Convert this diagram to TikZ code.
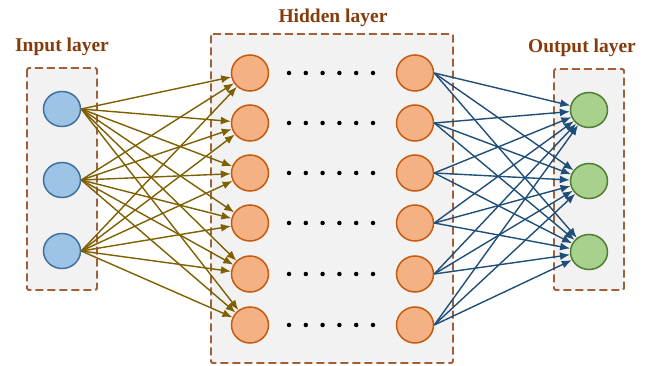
\documentclass[tikz,border=0pt]{standalone}
\usepackage{fontspec}
\setmainfont{Liberation Serif}
\usetikzlibrary{arrows.meta,shapes.geometric}
\definecolor{titlec}{HTML}{843C0C}
\definecolor{dashc}{HTML}{A0603A}
\definecolor{boxfill}{HTML}{F2F2F2}
\definecolor{inf}{HTML}{9DC3E6}
\definecolor{ind}{HTML}{41719C}
\definecolor{hif}{HTML}{F4B183}
\definecolor{hid}{HTML}{C55A11}
\definecolor{ouf}{HTML}{A9D18E}
\definecolor{oud}{HTML}{507E32}
\definecolor{arrl}{HTML}{7F6000}
\definecolor{arrr}{HTML}{1F4E79}
\tikzset{
  layerbox/.style={draw=dashc, fill=boxfill, line width=1.8pt, dash pattern=on 8pt off 4pt, rounded corners=1.5pt},
  neuron/.style={ellipse, minimum width=37pt, minimum height=35pt, inner sep=0pt, line width=1.5pt},
  inneuron/.style={neuron, draw=ind, fill=inf},
  hidneuron/.style={neuron, draw=hid, fill=hif, minimum height=36pt},
  outneuron/.style={neuron, draw=oud, fill=ouf},
  title/.style={font=\fontsize{19.5}{22}\selectfont\bfseries, text=titlec, anchor=base, inner sep=0pt},
  larrow/.style={draw=arrl, line width=1.4pt, -{Latex[length=10pt,width=8pt]}},
  rarrow/.style={draw=arrr, line width=1.4pt, -{Latex[length=10pt,width=8pt]}},
  dotc/.style={circle, fill=black, inner sep=0pt, minimum size=4.5pt}
}
\begin{document}
\begin{tikzpicture}[x=1pt,y=-1pt]
\useasboundingbox (0,0) rectangle (646,366);
% boxes
\path[layerbox] (27,68) rectangle (97,290);
\path[layerbox] (211,34) rectangle (453,363);
\path[layerbox] (554,69) rectangle (624,290);
% titles
\node[title] (tin) at (62,52) {Input layer};
\node[title] (thid) at (333,23) {Hidden layer};
\node[title] (tout) at (582,53) {Output layer};
% input nodes
\foreach \i/\y in {1/109,2/180,3/251} {
  \node[inneuron] (in\i) at (62,\y) {};
}
% output nodes
\foreach \i/\y in {1/110,2/181,3/252} {
  \node[outneuron] (out\i) at (589,\y) {};
}
% hidden nodes and dots
\foreach \i/\y in {1/73,2/123,3/173,4/223,5/274,6/325} {
  \node[hidneuron] (hl\i) at (250,\y) {};
  \node[hidneuron] (hr\i) at (415,\y) {};
  \foreach \k in {0,...,5} {
    \node[dotc] (d\i\k) at (289+16.8*\k,\y) {};
  }
}
% connections
\foreach \i in {1,2,3} {
  \foreach \j in {1,...,6} {
    \draw[larrow] (in\i.east) -- (hl\j);
  }
}
\foreach \j in {1,...,6} {
  \foreach \i in {1,2,3} {
    \draw[rarrow] (hr\j.east) -- (out\i);
  }
}
\end{tikzpicture}
\end{document}
